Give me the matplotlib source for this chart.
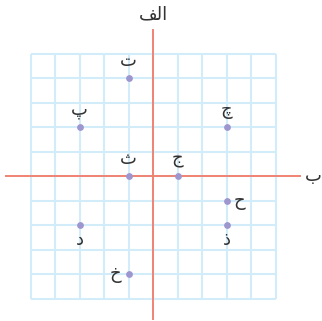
import matplotlib
matplotlib.use("Agg")
import matplotlib.pyplot as plt

# data
labels = ["ت", "پ", "چ", "ث", "ج", "ح", "ذ", "د", "خ"]
xs = [-1, -3, 3, -1, 1, 3, 3, -3, -1]
ys = [4, 2, 2, 0, 0, -1, -2, -2, -4]
label_pos = ["above", "above", "above", "above", "above", "right", "below", "below", "left"]
y_axis_label = "\uFED2\uFEDF\uFE8D"  # "الف" in shaped (visual) form
x_axis_label = "ب"

grid_min, grid_max = -5, 5
axis_min, axis_max = -6, 6

W, H = 322, 321
fig = plt.figure(figsize=(W / 100, H / 100), dpi=100)
ax = fig.add_axes([0, 0, 1, 1])
ux = 24.5
cx, cy = 153, 176
ax.set_xlim(-cx / ux, (W - cx) / ux)
ax.set_ylim(-(H - cy) / ux, cy / ux)
ax.axis("off")

grid_color = "#d3ecfa"
for v in range(grid_min, grid_max + 1):
    ax.plot([v, v], [grid_min, grid_max], color=grid_color, lw=1.5, zorder=1, solid_capstyle="butt")
    ax.plot([grid_min, grid_max], [v, v], color=grid_color, lw=1.5, zorder=1, solid_capstyle="butt")

axis_color = "#ef8373"
ax.plot([axis_min, axis_max], [0, 0], color=axis_color, lw=1.4, zorder=2)
ax.plot([0, 0], [axis_min + 0.15, axis_max - 0.05], color=axis_color, lw=1.4, zorder=2)

ax.scatter(xs, ys, s=24, color="#9d96cf", zorder=3, linewidths=0)

fs = 13
tc = "#333333"
for lab, x, y, p in zip(labels, xs, ys, label_pos):
    if p == "above":
        ax.annotate(lab, (x, y), xytext=(0, 6), textcoords="offset points", ha="center", va="bottom", fontsize=fs, color=tc, family="DejaVu Sans")
    elif p == "below":
        ax.annotate(lab, (x, y), xytext=(0, -4), textcoords="offset points", ha="center", va="top", fontsize=fs, color=tc, family="DejaVu Sans")
    elif p == "right":
        ax.annotate(lab, (x, y), xytext=(5, 0), textcoords="offset points", ha="left", va="center", fontsize=fs, color=tc, family="DejaVu Sans")
    else:
        ax.annotate(lab, (x, y), xytext=(-5, 0), textcoords="offset points", ha="right", va="center", fontsize=fs, color=tc, family="DejaVu Sans")

ax.text(0, axis_max + 0.22, y_axis_label, ha="center", va="bottom", fontsize=13, color=tc, family="DejaVu Sans")
ax.text(axis_max + 0.2, 0, x_axis_label, ha="left", va="center", fontsize=13, color=tc, family="DejaVu Sans")

fig.savefig("out.png", dpi=100, facecolor="white")
